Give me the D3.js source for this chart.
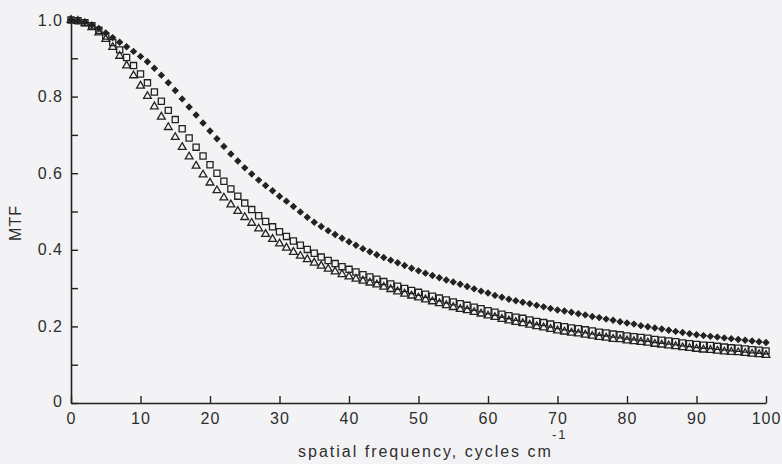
<!DOCTYPE html>
<html>
<head>
<meta charset="utf-8">
<script src="https://cdn.jsdelivr.net/npm/d3@7"></script>
<style>
  html, body { margin: 0; padding: 0; background: #f3f3f5; }
  svg { display: block; }
</style>
</head>
<body>
<div id="chart"></div>
<script>
'use strict';

// spatial frequency, cycles per cm (one point per unit)
var freq = d3.range(0, 101);

// MTF, filled diamonds
var mtfDiamond = [
  1.000, 0.998, 0.994, 0.987, 0.978, 0.966, 0.954, 0.942, 0.930, 0.918,
  0.905, 0.891, 0.874, 0.856, 0.836, 0.816, 0.794, 0.773, 0.752, 0.731,
  0.710, 0.690, 0.670, 0.650, 0.632, 0.614, 0.598, 0.582, 0.568, 0.554,
  0.540, 0.527, 0.513, 0.499, 0.485, 0.472, 0.461, 0.450, 0.440, 0.430,
  0.421, 0.412, 0.403, 0.395, 0.387, 0.380, 0.373, 0.366, 0.359, 0.352,
  0.345, 0.339, 0.333, 0.327, 0.321, 0.316, 0.310, 0.304, 0.298, 0.292,
  0.287, 0.281, 0.276, 0.271, 0.267, 0.263, 0.259, 0.255, 0.251, 0.247,
  0.243, 0.240, 0.237, 0.233, 0.230, 0.226, 0.223, 0.219, 0.216, 0.212,
  0.209, 0.206, 0.202, 0.199, 0.196, 0.193, 0.190, 0.187, 0.184, 0.181,
  0.178, 0.176, 0.174, 0.172, 0.170, 0.168, 0.166, 0.164, 0.162, 0.160,
  0.158
];

// MTF, open squares
var mtfSquare = [
  1.000, 0.998, 0.993, 0.985, 0.973, 0.958, 0.941, 0.922, 0.902, 0.881,
  0.859, 0.836, 0.812, 0.788, 0.764, 0.740, 0.716, 0.692, 0.668, 0.645,
  0.622, 0.600, 0.579, 0.559, 0.540, 0.522, 0.505, 0.489, 0.474, 0.460,
  0.447, 0.435, 0.423, 0.412, 0.401, 0.391, 0.381, 0.372, 0.364, 0.356,
  0.349, 0.342, 0.335, 0.329, 0.323, 0.317, 0.311, 0.305, 0.299, 0.294,
  0.289, 0.284, 0.279, 0.274, 0.269, 0.264, 0.259, 0.255, 0.250, 0.246,
  0.241, 0.237, 0.232, 0.228, 0.224, 0.221, 0.217, 0.213, 0.210, 0.206,
  0.202, 0.199, 0.196, 0.194, 0.191, 0.188, 0.185, 0.183, 0.180, 0.178,
  0.175, 0.173, 0.171, 0.169, 0.166, 0.164, 0.162, 0.160, 0.157, 0.155,
  0.153, 0.151, 0.150, 0.148, 0.146, 0.144, 0.143, 0.141, 0.139, 0.138,
  0.136
];

// MTF, open triangles
var mtfTriangle = [
  1.000, 0.997, 0.991, 0.981, 0.967, 0.950, 0.929, 0.906, 0.881, 0.855,
  0.828, 0.801, 0.774, 0.747, 0.720, 0.694, 0.668, 0.643, 0.619, 0.596,
  0.575, 0.555, 0.536, 0.518, 0.501, 0.485, 0.470, 0.455, 0.441, 0.428,
  0.416, 0.405, 0.394, 0.384, 0.375, 0.366, 0.358, 0.350, 0.343, 0.336,
  0.330, 0.324, 0.319, 0.314, 0.309, 0.303, 0.297, 0.291, 0.285, 0.280,
  0.275, 0.270, 0.265, 0.260, 0.255, 0.250, 0.245, 0.242, 0.237, 0.233,
  0.228, 0.224, 0.219, 0.215, 0.211, 0.208, 0.204, 0.200, 0.197, 0.193,
  0.189, 0.186, 0.183, 0.181, 0.178, 0.175, 0.172, 0.170, 0.167, 0.166,
  0.163, 0.161, 0.159, 0.157, 0.154, 0.152, 0.150, 0.148, 0.145, 0.143,
  0.141, 0.139, 0.138, 0.136, 0.134, 0.133, 0.132, 0.130, 0.128, 0.127,
  0.125
];

var xTicks = [0, 10, 20, 30, 40, 50, 60, 70, 80, 90, 100];
var yTicks = [0, 0.1, 0.2, 0.3, 0.4, 0.5, 0.6, 0.7, 0.8, 0.9, 1.0];
var yTickLabels = ['0', '', '0.2', '', '0.4', '', '0.6', '', '0.8', '', '1.0'];

var settings = {};
settings.font_family = '"Liberation Sans", Arial, sans-serif';
settings.font_size = '16px';
settings.ink = '#222';
settings.text = '#2e2e2e';

// set the dimensions and margins of the graph
var margin = {top: 20, right: 16, bottom: 61, left: 71},
    width = 782 - margin.left - margin.right,
    height = 464 - margin.top - margin.bottom;

var x = d3.scaleLinear().domain([0, 100]).range([0, width]);
var y = d3.scaleLinear().domain([0, 1]).range([height, 0]);

var svg = d3.select('#chart').append('svg')
    .attr('width', 782)
    .attr('height', 464)
    .style('background', '#f3f3f5')
  .append('g')
    .attr('transform', 'translate(' + margin.left + ',' + margin.top + ')');

// x axis, ticks pointing up into the plot
var xAxis = svg.append('g')
    .attr('transform', 'translate(0,' + height + ')')
    .call(d3.axisBottom(x).tickValues(xTicks).tickSizeInner(-7).tickSizeOuter(0)
      .tickFormat(d3.format('d')).tickPadding(10));

// y axis, ticks pointing right into the plot
var yAxis = svg.append('g')
    .call(d3.axisLeft(y).tickValues(yTicks).tickSizeInner(-7).tickSizeOuter(0)
      .tickFormat(function(d, i) { return yTickLabels[i] }).tickPadding(8));

[xAxis, yAxis].forEach(function(ax) {
  ax.attr('font-size', null);
  ax.select('.domain').attr('stroke', settings.ink).attr('stroke-width', 1.6);
  ax.selectAll('.tick line').attr('stroke', settings.ink).attr('stroke-width', 1.4);
  ax.selectAll('.tick text')
    .attr('fill', settings.text)
    .attr('font-family', settings.font_family)
    .style('font-size', settings.font_size)
    .attr('letter-spacing', '1px');
});

// the "0" on the y axis sits just above the corner
yAxis.selectAll('.tick text').filter(function(d) { return d === 0 })
    .attr('dy', '0.2em');

// axis titles
var xTitle = svg.append('text')
    .attr('x', 227)
    .attr('y', height + 54)
    .attr('fill', settings.text)
    .attr('font-family', settings.font_family)
    .style('font-size', settings.font_size)
    .attr('letter-spacing', '2px');
xTitle.append('tspan').text('spatial frequency, cycles cm');
xTitle.append('tspan').attr('dy', -18).attr('dx', -1).style('font-size', '13px').text('-1');

svg.append('text')
    .attr('transform', 'translate(' + (-50) + ',' + (y(0.47)) + ') rotate(-90)')
    .attr('text-anchor', 'middle')
    .attr('fill', settings.text)
    .attr('font-family', settings.font_family)
    .style('font-size', settings.font_size)
    .attr('letter-spacing', '1px')
    .text('MTF');

// markers
var series = [
  {values: mtfTriangle, symbol: d3.symbolTriangle, size: 26, filled: false, rotate: 0},
  {values: mtfSquare, symbol: d3.symbolSquare, size: 38, filled: false, rotate: 0},
  {values: mtfDiamond, symbol: d3.symbolSquare, size: 18, filled: true, rotate: 45}
];

series.forEach(function(s) {
  var shape = d3.symbol().type(s.symbol).size(s.size);
  svg.append('g').selectAll('path')
      .data(freq.map(function(f, i) { return {f: f, v: s.values[i]} }))
    .enter().append('path')
      .attr('transform', function(d) {
        return 'translate(' + x(d.f) + ',' + y(d.v) + ') rotate(' + s.rotate + ')'
      })
      .attr('d', shape)
      .attr('fill', s.filled ? settings.ink : 'none')
      .attr('stroke', settings.ink)
      .attr('stroke-width', s.filled ? 1 : 1.3);
});
</script>
</body>
</html>
